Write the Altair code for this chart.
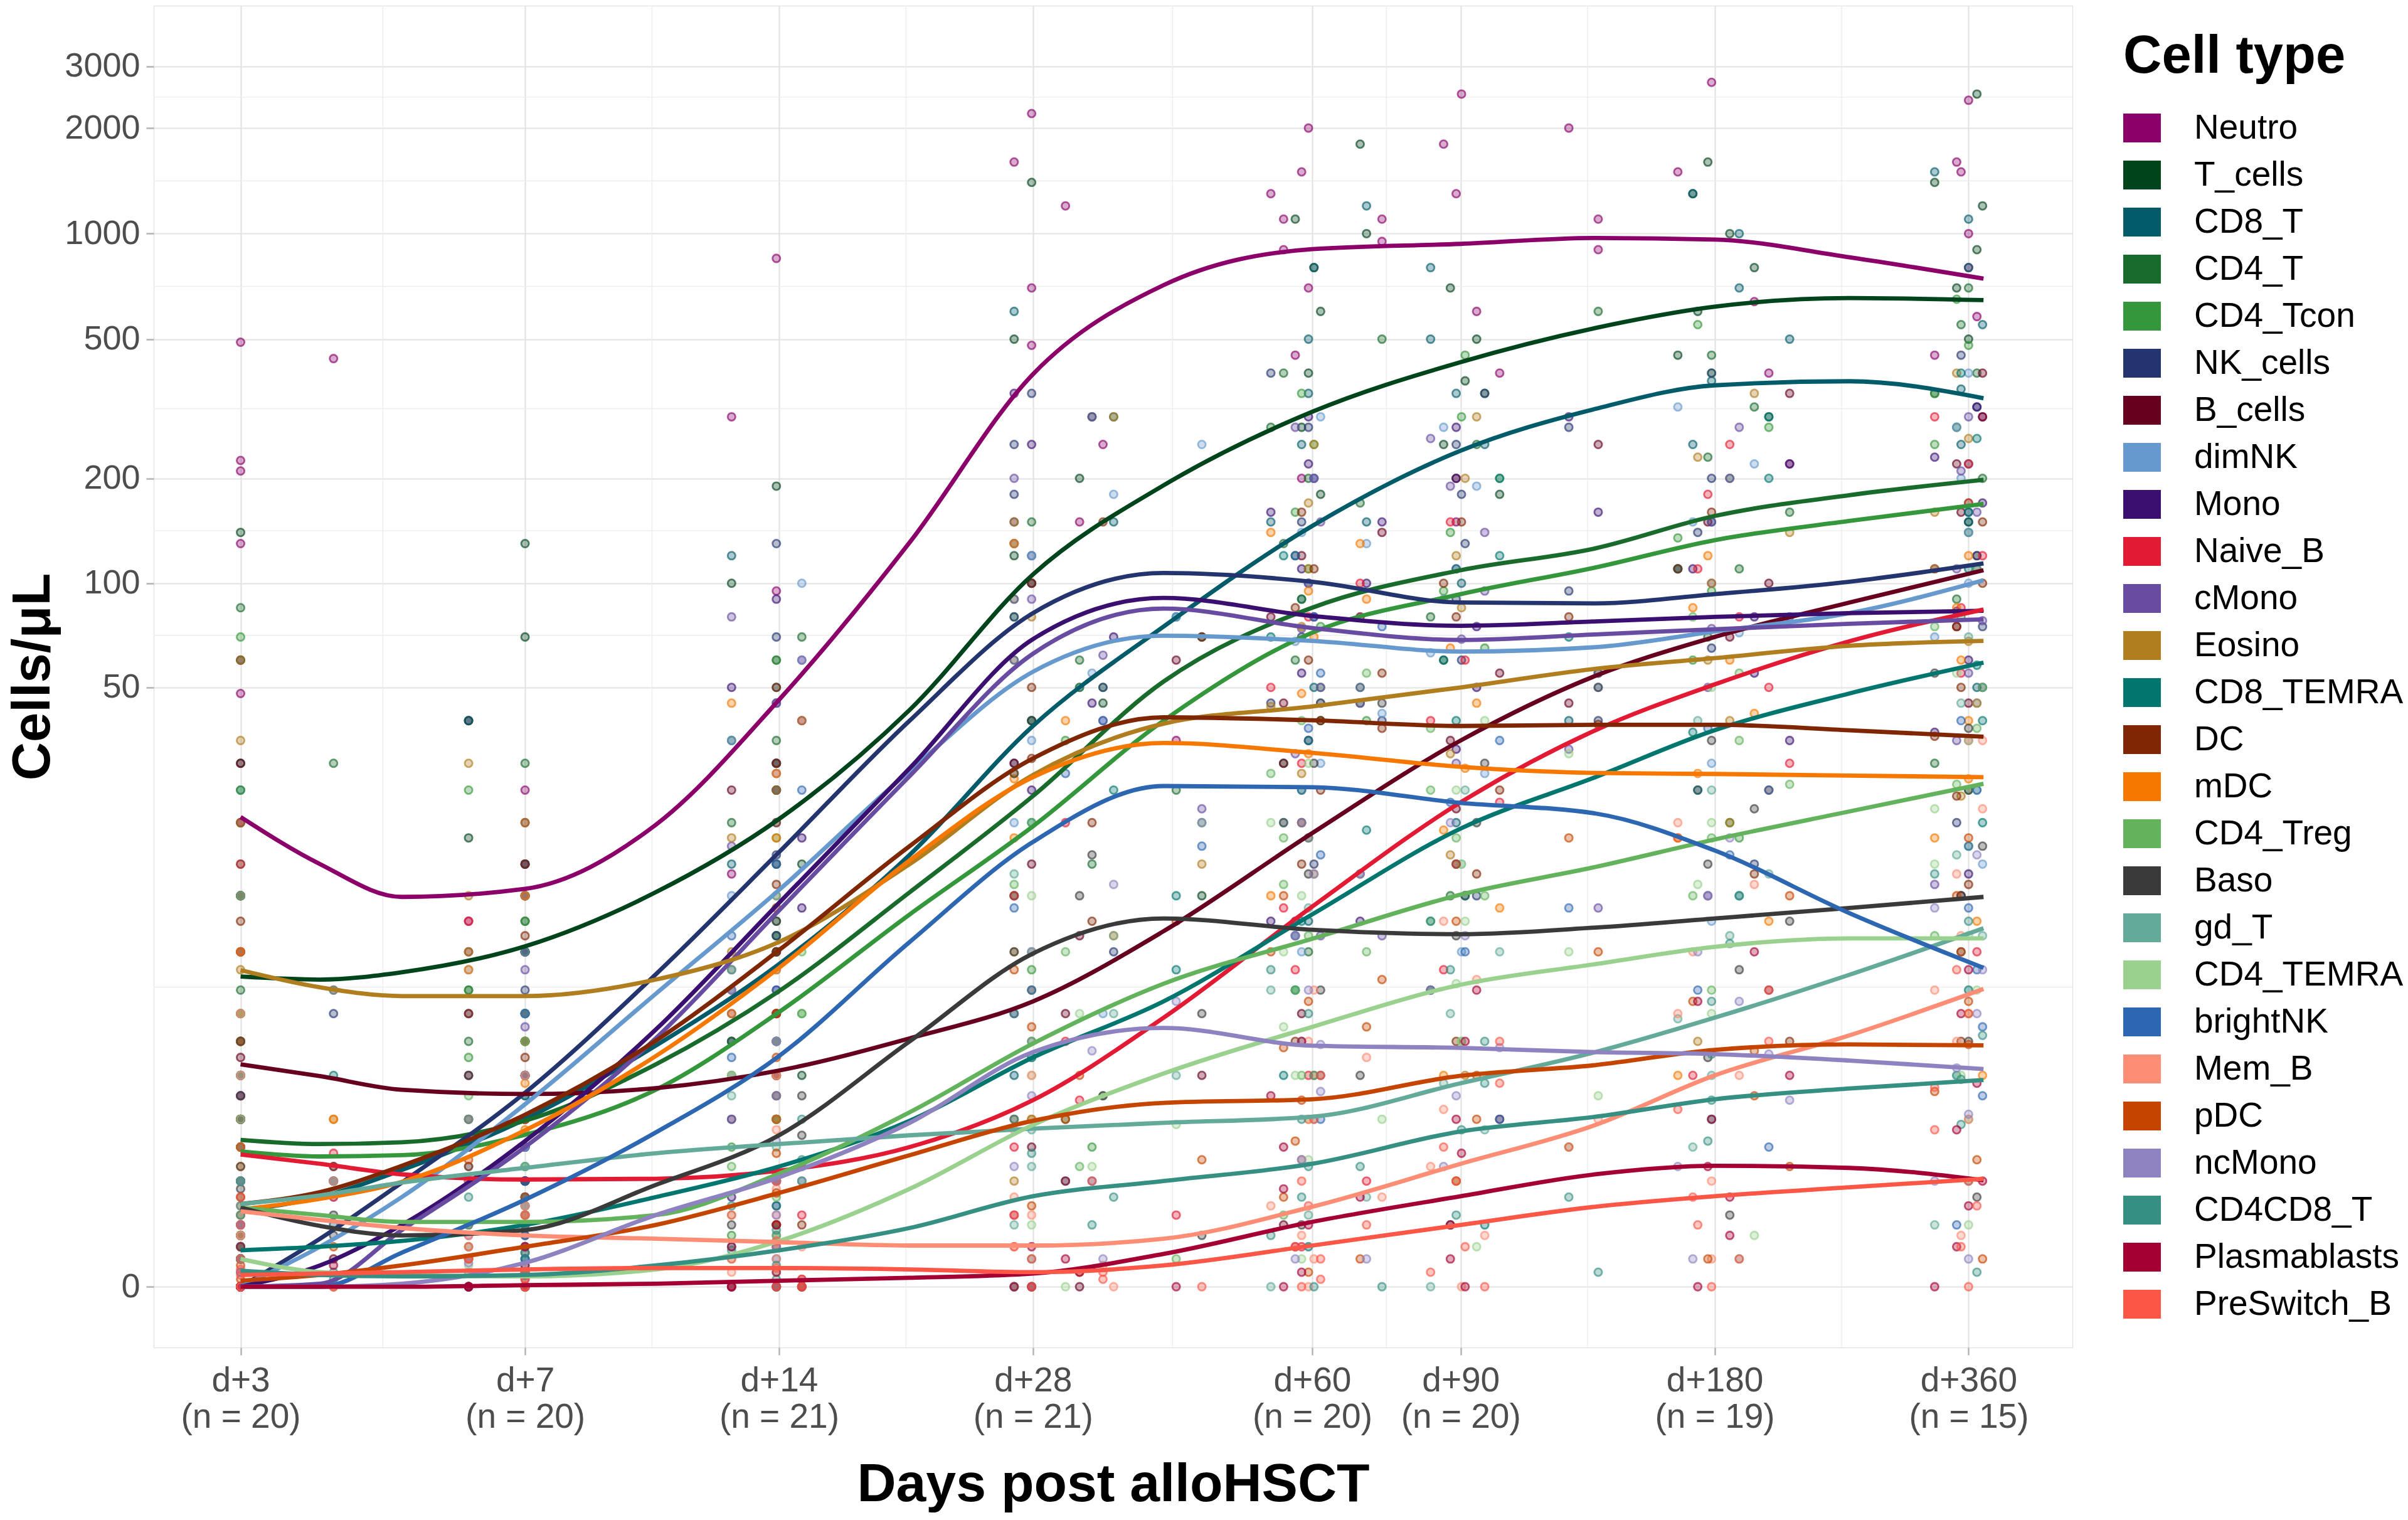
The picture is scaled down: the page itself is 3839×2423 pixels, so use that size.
import altair as alt
import pandas as pd
import math

FONT = "Liberation Sans"

cell_types = ["Neutro", "T_cells", "CD8_T", "CD4_T", "CD4_Tcon", "NK_cells", "B_cells",
              "dimNK", "Mono", "Naive_B", "cMono", "Eosino", "CD8_TEMRA", "DC", "mDC",
              "CD4_Treg", "Baso", "gd_T", "CD4_TEMRA", "brightNK", "Mem_B", "pDC",
              "ncMono", "CD4CD8_T", "Plasmablasts", "PreSwitch_B"]
cell_colors = ["#8B0069", "#00441B", "#015B69", "#196B2C", "#35973B", "#24346E", "#67001F",
               "#6699CD", "#3B0F70", "#E31A33", "#684CA2", "#B07D1F", "#00766F", "#7F2704",
               "#F67800", "#63B35D", "#3A3A3A", "#63AA9A", "#9AD18F", "#2D66B1", "#FD8D74",
               "#C54500", "#8F82C1", "#358F82", "#A50034", "#FC5647"]

# x axis ticks
tick_days = [3.22, 7, 14, 28, 60, 90, 180, 360]
tick_names = ["d+3", "d+7", "d+14", "d+28", "d+60", "d+90", "d+180", "d+360"]
tick_n = ["(n = 20)", "(n = 20)", "(n = 21)", "(n = 21)", "(n = 20)", "(n = 20)", "(n = 19)", "(n = 15)"]
y_ticks = [0, 50, 100, 200, 500, 1000, 2000, 3000]

# smoothed curves, read at these days
curve_days = [3.22, 4, 5, 7, 10, 14, 20, 28, 40, 60, 90, 130, 180, 260, 375]
curve_Neutro = [20.8, 15, 11.9, 12.6, 19.7, 46, 131, 397, 713, 903, 935, 972, 962, 856, 744]
curve_T_cells = [6.65, 6.5, 6.87, 8.33, 12.3, 20.5, 43, 106, 191, 310, 430, 538, 619, 655, 646]
curve_CD8_T = [0.65, 0.8, 1.15, 2.0, 3.86, 7.3, 16, 38.6, 75, 146, 240, 316, 369, 379, 339]
curve_CD4_T = [1.62, 1.55, 1.58, 1.97, 3.3, 5.95, 12.3, 24, 52, 85, 109, 126, 156, 179, 198]
curve_CD4_Tcon = [1.43, 1.35, 1.37, 1.71, 2.64, 5.06, 10.5, 19.5, 40, 72, 93, 111, 133, 151, 169]
curve_NK_cells = [0, 0.37, 0.98, 2.57, 6.76, 16.3, 40, 82, 107, 101, 88, 87.5, 93, 101, 114]
curve_B_cells = [3.3, 2.98, 2.64, 2.54, 2.68, 3.13, 4.1, 5.5, 9.3, 18.6, 35, 54, 70, 88, 109]
curve_dimNK = [0, 0.3, 0.8, 2.31, 5.83, 12.5, 28.5, 55.5, 70.6, 68.2, 63.5, 65.4, 72.6, 82, 102]
curve_Mono = [0, 0.15, 0.5, 1.6, 4.4, 11.4, 29, 69, 90.7, 80.5, 75.4, 77.6, 80, 82, 83.3]
curve_Naive_B = [1.38, 1.24, 1.09, 1.02, 1.03, 1.14, 1.5, 2.4, 4.84, 11.1, 23, 37.5, 51, 68, 84]
curve_cMono = [0, 0.02, 0.45, 1.5, 4.1, 10.8, 27.5, 62.6, 84.5, 74.3, 68.6, 71.2, 73.7, 76.4, 78.7]
curve_Eosino = [6.98, 6.13, 5.73, 5.73, 6.5, 8.6, 15, 27.7, 39.2, 44, 50, 56.6, 60.8, 66, 68.2]
curve_CD8_TEMRA = [0.27, 0.3, 0.35, 0.5, 0.8, 1.2, 1.97, 3.5, 5.5, 10.5, 19.2, 27.3, 37.5, 48, 59]
curve_DC = [0.72, 0.86, 1.21, 2.09, 4.02, 8.1, 17, 31, 40.9, 40.1, 38.6, 38.9, 38.9, 37.5, 35.9]
curve_mDC = [0.66, 0.78, 0.99, 1.79, 3.54, 7.1, 15.4, 27.3, 34.4, 32.2, 29.3, 28.1, 27.9, 27.6, 27.3]
curve_CD4_Treg = [0.68, 0.6, 0.53, 0.53, 0.6, 1.1, 2.14, 3.93, 6.3, 8.8, 12.1, 14.7, 17.8, 21.6, 26.1]
curve_Baso = [0.68, 0.49, 0.4, 0.45, 0.95, 1.7, 4.0, 7.9, 10.2, 9.4, 9.1, 9.55, 10.2, 11.0, 11.9]
curve_gd_T = [0.72, 0.82, 0.98, 1.18, 1.4, 1.55, 1.7, 1.82, 1.93, 2.05, 2.8, 3.66, 4.84, 6.74, 9.5]
curve_CD4_TEMRA = [0.2, 0.1, 0.08, 0.07, 0.12, 0.35, 0.9, 1.89, 3.05, 4.5, 6.25, 7.3, 8.3, 8.83, 8.83]
curve_brightNK = [0, 0, 0.25, 0.77, 1.75, 3.54, 8.6, 17.5, 25.7, 25.5, 22.9, 21.3, 16.5, 10.6, 7.1]
curve_Mem_B = [0.64, 0.55, 0.47, 0.4, 0.37, 0.34, 0.31, 0.31, 0.37, 0.69, 1.24, 1.89, 3.0, 4.2, 6.05]
curve_pDC = [0.04, 0.08, 0.15, 0.3, 0.5, 0.85, 1.37, 1.97, 2.34, 2.42, 2.99, 3.28, 3.73, 3.9, 3.87]
curve_ncMono = [0, 0, 0.02, 0.17, 0.6, 1.05, 1.93, 3.66, 4.46, 3.86, 3.79, 3.66, 3.6, 3.41, 3.17]
curve_CD4CD8_T = [0.11, 0.08, 0.07, 0.08, 0.15, 0.27, 0.47, 0.81, 1.0, 1.24, 1.77, 2.05, 2.42, 2.67, 2.88]
curve_Plasmablasts = [0, 0, 0, 0.01, 0.02, 0.04, 0.06, 0.09, 0.24, 0.53, 0.81, 1.09, 1.21, 1.18, 1.01]
curve_PreSwitch_B = [0.08, 0.09, 0.1, 0.12, 0.13, 0.13, 0.12, 0.1, 0.15, 0.31, 0.5, 0.69, 0.81, 0.92, 1.03]

# sampling days seen as point columns around each time point
days_d3 = [3.22, 3.22, 3.22, 4.15, 3.22, 3.22, 3.22]
days_d7 = [7.0, 6.0, 7.0, 7.0, 6.0, 7.0, 7.0]
days_d14 = [13.9, 12.3, 13.9, 13.9, 12.3, 13.9, 14.9, 13.9]
days_d28 = [27.9, 26.6, 27.9, 30.6, 26.6, 32.9, 27.9, 34.9, 26.6, 31.8, 27.9, 33.9, 41.4, 26.6, 44.4]
days_d60 = [59.4, 53.6, 57.3, 58.3, 60.3, 61.4, 55.5, 59.4, 58.3]
days_d90 = [90.2, 85.9, 68.4, 88.9, 69.6, 87.5, 72.6, 82.9, 91.1, 94.0, 96.1, 100.1, 88.9]
days_d180 = [178.5, 162.8, 176.7, 120.9, 169.6, 187.6, 131.0, 192.5, 171.9, 200.6, 178.5, 208.7, 220.9]
days_d360 = [360, 348.5, 368.3, 352.7, 328.2, 374, 360]

# individual sample values, 5 per time point (d+3, d+7, d+14, d+28, d+60, d+90, d+180, d+360)
pts_Neutro = [490, 440, 225, 210, 48, 25, 12, 8, 5, 3, 850, 95, 40, 14, 4, 2200, 1200, 480, 150, 35,
              2000, 1500, 1100, 700, 200, 2500, 1300, 950, 600, 150, 2700, 2000, 1100, 640, 220, 2400, 1500, 1000, 580, 300]
pts_T_cells = [140, 30, 12, 4, 1, 130, 70, 18, 6, 2, 190, 60, 25, 9, 3, 1400, 300, 120, 45, 12,
               1100, 600, 280, 120, 40, 1800, 700, 380, 180, 60, 1600, 1000, 600, 300, 110, 2500, 1200, 700, 350, 150]
pts_CD8_T = [25, 3, 1, 0.3, 0, 40, 8, 2, 0.5, 0, 120, 30, 8, 2, 0.5, 600, 150, 40, 12, 3,
             800, 350, 150, 50, 10, 1200, 500, 250, 100, 20, 1300, 700, 380, 150, 40, 1500, 800, 360, 150, 50]
pts_CD4_T = [85, 15, 4, 1.5, 0.3, 30, 8, 2, 1, 0.2, 70, 20, 6, 2, 0.5, 150, 60, 25, 8, 2,
             400, 200, 90, 30, 8, 500, 250, 110, 45, 12, 600, 320, 160, 70, 20, 700, 400, 200, 90, 30]
pts_CD4_Tcon = [70, 12, 3, 1, 0.2, 25, 6, 2, 0.8, 0.2, 60, 18, 5, 1.5, 0.4, 130, 50, 20, 7, 1.5,
                350, 160, 75, 25, 6, 450, 200, 95, 40, 10, 550, 280, 135, 60, 18, 650, 350, 170, 80, 25]
pts_NK_cells = [5, 1, 0.3, 0, 0, 15, 6, 2.5, 0.8, 0, 130, 45, 16, 5, 1, 350, 180, 80, 30, 8,
                400, 200, 100, 45, 15, 350, 180, 90, 40, 12, 400, 200, 95, 40, 15, 450, 220, 110, 50, 20]
pts_B_cells = [30, 12, 3.5, 1, 0.2, 20, 8, 3, 1, 0, 25, 8, 3, 1, 0, 60, 15, 5, 1.5, 0,
               120, 45, 18, 5, 0.5, 200, 80, 35, 12, 2, 350, 150, 70, 25, 6, 400, 220, 110, 45, 12]
pts_dimNK = [4, 0.8, 0.2, 0, 0, 12, 5, 2, 0.7, 0, 100, 35, 12, 4, 1, 250, 120, 55, 20, 5,
             300, 140, 68, 30, 8, 280, 130, 63, 28, 8, 320, 150, 72, 30, 10, 400, 200, 100, 45, 15]
pts_Mono = [3, 0.5, 0, 0, 0, 8, 3, 1.5, 0.5, 0, 90, 30, 11, 3, 0.8, 350, 150, 70, 25, 5,
            300, 160, 80, 35, 10, 280, 150, 75, 33, 10, 300, 160, 80, 35, 12, 320, 170, 83, 37, 14]
pts_Naive_B = [15, 4, 1.4, 0.4, 0, 10, 3, 1, 0.3, 0, 8, 3, 1.1, 0.3, 0, 20, 6, 2.4, 0.6, 0,
               80, 30, 11, 3, 0.3, 150, 60, 23, 7, 1, 250, 110, 50, 18, 3, 300, 170, 85, 35, 8]
pts_cMono = [2.5, 0.4, 0, 0, 0, 7, 3, 1.5, 0.4, 0, 80, 28, 11, 3, 0.7, 300, 130, 62, 22, 4,
             280, 150, 74, 32, 9, 260, 140, 69, 30, 9, 280, 150, 74, 33, 11, 300, 160, 78, 35, 13]
pts_Eosino = [60, 20, 7, 2, 0.3, 30, 12, 5, 2, 0.3, 40, 18, 8, 3, 0.5, 300, 80, 28, 8, 1,
              250, 110, 44, 14, 2, 300, 120, 50, 16, 3, 350, 140, 60, 20, 4, 400, 160, 68, 24, 5]
pts_CD8_TEMRA = [3, 0.8, 0.2, 0, 0, 5, 1.5, 0.5, 0, 0, 15, 4, 1.2, 0.3, 0, 50, 12, 3.5, 1, 0,
                 120, 35, 10, 3, 0.3, 200, 60, 19, 6, 0.5, 300, 110, 37, 12, 2, 400, 160, 58, 20, 3]
pts_DC = [10, 2, 0.7, 0.2, 0, 15, 5, 2, 0.6, 0, 50, 20, 8, 2.5, 0.5, 150, 70, 31, 10, 2,
          160, 85, 40, 15, 4, 150, 80, 38, 14, 4, 160, 80, 39, 14, 4, 150, 75, 36, 13, 4]
pts_mDC = [8, 2, 0.6, 0.2, 0, 12, 4, 1.8, 0.5, 0, 45, 18, 7, 2, 0.4, 130, 60, 27, 9, 2,
           140, 70, 32, 12, 3, 130, 65, 29, 11, 3, 120, 60, 28, 10, 3, 120, 60, 27, 10, 3]
pts_CD4_Treg = [5, 1.5, 0.6, 0.2, 0, 4, 1.2, 0.5, 0.1, 0, 8, 3, 1.2, 0.4, 0, 20, 8, 4, 1.2, 0.2,
                40, 18, 9, 3, 0.6, 55, 25, 12, 4, 1, 80, 35, 18, 6, 1.5, 110, 50, 26, 9, 2]
pts_Baso = [4, 1.2, 0.6, 0.2, 0, 3, 1, 0.4, 0.1, 0, 10, 4, 1.7, 0.5, 0, 40, 16, 8, 2.5, 0.4,
            45, 20, 9, 3, 0.5, 45, 20, 9, 3, 0.5, 50, 22, 10, 3.5, 0.6, 55, 25, 12, 4, 0.8]
pts_gd_T = [12, 3, 0.7, 0.2, 0, 8, 3, 1.2, 0.3, 0, 12, 4, 1.5, 0.4, 0, 14, 5, 1.8, 0.5, 0,
            18, 6, 2, 0.6, 0, 25, 8, 2.8, 0.8, 0, 40, 14, 4.8, 1.5, 0.2, 70, 25, 9, 3, 0.5]
pts_CD4_TEMRA = [2, 0.5, 0.2, 0, 0, 1, 0.3, 0.07, 0, 0, 3, 1, 0.35, 0.1, 0, 12, 5, 1.9, 0.5, 0,
                 30, 12, 4.5, 1.3, 0.2, 40, 15, 6.3, 2, 0.3, 50, 20, 8, 2.5, 0.4, 55, 22, 9, 3, 0.5]
pts_brightNK = [1, 0.2, 0, 0, 0, 5, 1.5, 0.8, 0.2, 0, 25, 9, 3.5, 1, 0.2, 90, 40, 17, 6, 1,
                120, 55, 25, 9, 2, 110, 50, 23, 8, 2, 80, 38, 16, 6, 1.5, 40, 17, 7, 2.5, 0.5]
pts_Mem_B = [5, 1.5, 0.6, 0.2, 0, 3, 1, 0.4, 0.1, 0, 3, 0.9, 0.3, 0.1, 0, 3, 0.8, 0.3, 0, 0,
             6, 2, 0.7, 0.2, 0, 10, 3.5, 1.2, 0.4, 0, 20, 8, 3, 1, 0.2, 35, 14, 6, 2, 0.4]
pts_pDC = [1.5, 0.3, 0.05, 0, 0, 2, 0.8, 0.3, 0.1, 0, 5, 2, 0.85, 0.3, 0, 10, 4.5, 2, 0.7, 0.1,
           12, 5.5, 2.4, 0.8, 0.1, 15, 6.5, 3, 1, 0.2, 18, 8, 3.7, 1.2, 0.2, 18, 8, 3.9, 1.3, 0.2]
pts_ncMono = [1, 0.2, 0, 0, 0, 1.5, 0.5, 0.17, 0, 0, 6, 2.5, 1, 0.3, 0, 20, 8, 3.7, 1.2, 0.2,
              20, 9, 3.9, 1.3, 0.2, 20, 9, 3.8, 1.2, 0.2, 18, 8, 3.6, 1.2, 0.2, 16, 7, 3.2, 1, 0.2]
pts_CD4CD8_T = [1, 0.3, 0.1, 0, 0, 0.8, 0.25, 0.08, 0, 0, 2, 0.7, 0.27, 0.05, 0, 5, 2, 0.8, 0.2, 0,
                7, 3, 1.2, 0.4, 0, 10, 4, 1.8, 0.6, 0, 12, 5.5, 2.4, 0.8, 0.1, 14, 6, 2.9, 1, 0.1]
pts_Plasmablasts = [0.3, 0, 0, 0, 0, 0.3, 0.05, 0, 0, 0, 0.5, 0.1, 0, 0, 0, 1, 0.3, 0.1, 0, 0,
                    4, 1.5, 0.5, 0.1, 0, 6, 2, 0.8, 0.2, 0, 8, 3, 1.2, 0.4, 0, 7, 2.8, 1, 0.3, 0]
pts_PreSwitch_B = [0.8, 0.2, 0.08, 0, 0, 1, 0.3, 0.1, 0, 0, 1, 0.35, 0.13, 0, 0, 1, 0.3, 0.1, 0, 0,
                   3, 1, 0.3, 0.05, 0, 4, 1.5, 0.5, 0.1, 0, 6, 2.2, 0.8, 0.2, 0, 7, 2.7, 1, 0.3, 0]

# more individual samples, 3 per time point
more_Neutro = [130, 60, 20, 40, 15, 10, 300, 60, 25, 1600, 700, 250, 1300, 900, 450, 1800, 1100, 400, 1500, 900, 400, 1600, 800, 450]
more_T_cells = [60, 8, 2, 40, 10, 4, 100, 35, 15, 500, 200, 70, 800, 400, 180, 1000, 500, 250, 1300, 800, 450, 1400, 900, 500]
more_CD8_T = [8, 1.5, 0.5, 15, 4, 1, 50, 15, 4, 300, 80, 20, 500, 250, 90, 800, 350, 150, 1000, 500, 250, 1100, 550, 250]
more_CD4_T = [30, 6, 2.5, 12, 4, 1.5, 35, 10, 4, 100, 40, 15, 280, 130, 60, 350, 170, 80, 450, 230, 110, 550, 280, 140]
more_CD4_Tcon = [25, 5, 2, 10, 3.5, 1.2, 30, 9, 3, 80, 35, 12, 250, 110, 50, 300, 140, 65, 400, 200, 95, 480, 250, 120]
more_NK_cells = [2, 0.5, 0, 8, 4, 1.5, 70, 25, 9, 250, 120, 50, 280, 150, 70, 250, 130, 60, 280, 140, 65, 320, 160, 75]
more_B_cells = [20, 6, 2, 12, 5, 1.5, 15, 5, 2, 30, 9, 3, 80, 30, 10, 140, 55, 22, 250, 100, 45, 300, 160, 75]
more_dimNK = [2, 0.4, 0, 7, 3, 1.2, 60, 20, 7, 180, 80, 35, 200, 100, 45, 190, 90, 42, 220, 110, 50, 280, 140, 70]
more_Mono = [1.5, 0.2, 0, 5, 2, 1, 50, 18, 6, 250, 100, 45, 220, 110, 55, 200, 100, 50, 220, 110, 55, 230, 120, 60]
more_Naive_B = [8, 2.5, 0.8, 5, 2, 0.6, 5, 2, 0.6, 12, 4, 1.5, 50, 20, 7, 100, 40, 15, 180, 80, 30, 220, 120, 55]
more_cMono = [1.2, 0.2, 0, 4.5, 2, 0.8, 45, 17, 6, 200, 90, 40, 200, 100, 50, 190, 95, 45, 200, 100, 50, 210, 110, 55]
more_Eosino = [35, 12, 4, 20, 8, 3, 25, 12, 5, 150, 50, 15, 170, 75, 28, 200, 85, 32, 230, 100, 40, 260, 110, 45]
more_CD8_TEMRA = [1.5, 0.4, 0, 2.5, 1, 0.2, 8, 2.5, 0.7, 25, 7, 2, 70, 20, 6, 120, 40, 12, 200, 70, 25, 260, 110, 40]
more_DC = [5, 1.2, 0.4, 9, 3.5, 1.2, 30, 13, 5, 100, 50, 20, 110, 60, 25, 100, 55, 25, 110, 55, 25, 100, 50, 24]
more_mDC = [4, 1.2, 0.4, 7, 2.8, 1, 28, 11, 4, 90, 40, 18, 95, 48, 20, 90, 45, 19, 85, 42, 18, 85, 40, 18]
more_CD4_Treg = [3, 1, 0.3, 2.5, 0.8, 0.3, 5, 2, 0.8, 13, 6, 2.5, 28, 13, 6, 38, 18, 8, 55, 26, 12, 75, 38, 17]
more_Baso = [2.5, 0.9, 0.4, 2, 0.7, 0.25, 7, 2.5, 1, 28, 12, 5, 30, 14, 6, 30, 14, 6, 35, 15, 7, 38, 17, 8]
more_gd_T = [6, 1.5, 0.4, 5, 2, 0.7, 7, 2.5, 1, 9, 3, 1.2, 11, 4, 1.3, 15, 5, 1.8, 25, 9, 3, 45, 16, 6]
more_CD4_TEMRA = [1, 0.3, 0.1, 0.6, 0.15, 0, 2, 0.6, 0.2, 8, 3, 1.2, 20, 8, 3, 25, 10, 4, 32, 13, 5, 35, 15, 6]
more_brightNK = [0.5, 0.1, 0, 3, 1, 0.4, 15, 6, 2, 60, 28, 11, 80, 38, 16, 75, 35, 15, 55, 25, 11, 25, 11, 4.5]
more_Mem_B = [3, 1, 0.4, 2, 0.7, 0.2, 1.8, 0.6, 0.2, 1.8, 0.6, 0.15, 4, 1.3, 0.4, 6.5, 2.2, 0.8, 13, 5, 2, 22, 9, 4]
more_pDC = [0.8, 0.15, 0, 1.3, 0.5, 0.2, 3.5, 1.4, 0.5, 7, 3, 1.3, 8, 3.8, 1.6, 10, 4.5, 2, 12, 5.5, 2.5, 12, 5.5, 2.6]
more_ncMono = [0.5, 0.1, 0, 1, 0.3, 0.1, 4, 1.6, 0.6, 13, 5.5, 2.5, 14, 6, 2.6, 14, 6, 2.5, 12, 5.5, 2.4, 11, 5, 2.1]
more_CD4CD8_T = [0.6, 0.2, 0.05, 0.5, 0.15, 0, 1.3, 0.45, 0.15, 3.5, 1.4, 0.5, 5, 2, 0.8, 7, 2.8, 1.2, 8.5, 3.6, 1.6, 10, 4.2, 1.9]
more_Plasmablasts = [0.15, 0, 0, 0.15, 0, 0, 0.3, 0.05, 0, 0.6, 0.2, 0, 2.5, 0.9, 0.3, 4, 1.4, 0.5, 5.5, 2, 0.8, 5, 1.8, 0.7]
more_PreSwitch_B = [0.5, 0.12, 0, 0.6, 0.2, 0.05, 0.6, 0.2, 0.05, 0.6, 0.2, 0.05, 2, 0.7, 0.2, 2.8, 1, 0.3, 4, 1.5, 0.5, 5, 1.8, 0.7]

# ---------------- build tables ----------------
g = globals()
sample_days = [days_d3, days_d7, days_d14, days_d28, days_d60, days_d90, days_d180, days_d360]

line_rows = []
point_rows = []
for k, name in enumerate(cell_types):
    for d, v in zip(curve_days, g["curve_" + name]):
        line_rows.append({"cell": name, "day": d, "value": v})
    vals = g["pts_" + name]
    more = g["more_" + name]
    for t in range(8):
        cols = sample_days[t]
        for j in range(5):
            point_rows.append({"cell": name,
                               "day": cols[(k * 2 + j * 3) % len(cols)],
                               "value": vals[t * 5 + j]})
        for j in range(3):
            point_rows.append({"cell": name,
                               "day": cols[(k * 3 + j * 5 + 1) % len(cols)],
                               "value": more[t * 3 + j]})
lines_df = pd.DataFrame(line_rows)
points_df = pd.DataFrame(point_rows)

minor_x = [math.sqrt(a * b) for a, b in zip(tick_days[:-1], tick_days[1:])]
minor_y = [math.sqrt((a + 1) * (b + 1)) - 1 for a, b in zip(y_ticks[:-1], y_ticks[1:])]

label_expr = " : ".join(
    f"datum.value == {d} ? ['{a}', '{b}']" for d, a, b in zip(tick_days, tick_names, tick_n)
) + " : ''"

xscale = alt.Scale(type="log", domain=[2.54, 478], nice=False)
yscale = alt.Scale(type="symlog", constant=1, domain=[-0.49, 4466], nice=False, zero=False)
cscale = alt.Scale(domain=cell_types, range=cell_colors)

xaxis = alt.Axis(values=tick_days, labelExpr=label_expr, title="Days post alloHSCT",
                 labelFontSize=55, labelLineHeight=58, labelColor="#4D4D4D", labelFont=FONT,
                 labelBaseline="top", labelAlign="center", labelOverlap=False, labelFlush=False,
                 labelLimit=0, labelPadding=14, tickSize=12, tickWidth=2.5, tickColor="#B3B3B3",
                 titleFontSize=86, titleFont=FONT, titleFontWeight="bold", titleColor="black",
                 titlePadding=38, titleLimit=0, grid=True, gridColor="#E3E3E3", gridWidth=2.2,
                 domain=False)
yaxis = alt.Axis(values=y_ticks, format="d", title="Cells/μL",
                 labelFontSize=54, labelColor="#4D4D4D", labelFont=FONT, labelOverlap=False,
                 labelLimit=0, labelPadding=10, tickSize=12, tickWidth=2.5, tickColor="#B3B3B3",
                 titleFontSize=85, titleFont=FONT, titleFontWeight="bold", titleColor="black",
                 titlePadding=6, titleLimit=0, grid=True, gridColor="#E3E3E3", gridWidth=2.2,
                 domain=False)

legend = alt.Legend(title="Cell type", orient="none", legendX=3140, legendY=40,
                    titleFontSize=85, titleFont=FONT, titleFontWeight="bold", titleColor="black",
                    titlePadding=40, titleLimit=0, labelFontSize=55, labelFont=FONT,
                    labelColor="black", labelLimit=0,
                    symbolType="M-1,-0.767H1V0.767H-1Z", symbolSize=3600, symbolStrokeWidth=0,
                    symbolOpacity=1, rowPadding=17, labelOffset=53, padding=0)

minor_x_layer = alt.Chart(pd.DataFrame({"day": minor_x})).mark_rule(
    color="#EDEDED", strokeWidth=1.4).encode(x=alt.X("day:Q", scale=xscale, axis=xaxis))
minor_y_layer = alt.Chart(pd.DataFrame({"value": minor_y})).mark_rule(
    color="#EDEDED", strokeWidth=1.4).encode(y=alt.Y("value:Q", scale=yscale, axis=yaxis))

points_layer = alt.Chart(points_df).mark_point(
    shape="circle", filled=True, size=150, opacity=1, fillOpacity=0.33,
    strokeOpacity=0.65, strokeWidth=2.8
).encode(
    x=alt.X("day:Q", scale=xscale, axis=xaxis),
    y=alt.Y("value:Q", scale=yscale, axis=yaxis),
    color=alt.Color("cell:N", scale=cscale, legend=legend),
    stroke=alt.Stroke("cell:N", scale=cscale, legend=None),
)

lines_layer = alt.Chart(lines_df).mark_line(strokeWidth=6.8, interpolate="monotone").encode(
    x=alt.X("day:Q", scale=xscale, axis=xaxis),
    y=alt.Y("value:Q", scale=yscale, axis=yaxis),
    color=alt.Color("cell:N", scale=cscale, legend=None),
)

chart = alt.layer(minor_x_layer, minor_y_layer, points_layer, lines_layer).properties(
    width=3059, height=2139,
    padding={"left": 237, "top": 1, "right": 527, "bottom": 267},
    autosize=alt.AutoSizeParams(type="none"),
    background="white",
).configure_view(stroke="#B3B3B3", strokeWidth=3).configure(font=FONT)

chart.save("out.html", embed_options={"renderer": "svg", "actions": False})
